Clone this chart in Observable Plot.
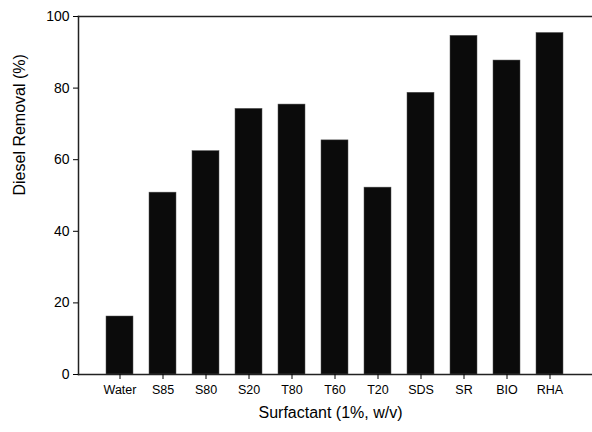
<!DOCTYPE html>
<html>
<head>
<meta charset="utf-8">
<script src="https://cdn.jsdelivr.net/npm/d3@7"></script>
<script src="https://cdn.jsdelivr.net/npm/@observablehq/plot@0.6"></script>
<style>
  html, body { margin: 0; padding: 0; background: #fff; }
</style>
</head>
<body>
<div id="chart"></div>
<script>
const categories = ["Water", "S85", "S80", "S20", "T80", "T60", "T20", "SDS", "SR", "BIO", "RHA"];
const removal = [16.2, 50.8, 62.4, 74.2, 75.4, 65.4, 52.2, 78.7, 94.6, 87.7, 95.4];
const yTicks = [0, 20, 40, 60, 80, 100];
const xTitle = "Surfactant (1%, w/v)";
const yTitle = "Diesel Removal (%)";

const data = categories.map((c, i) => ({surfactant: c, value: removal[i]}));

const chart = Plot.plot({
  width: 592,
  height: 432,
  marginTop: 16,
  marginBottom: 58,
  marginLeft: 78,
  marginRight: 0,
  style: {fontFamily: "'Liberation Sans', Arial, sans-serif", color: "#000", background: "#fff"},
  x: {domain: categories, paddingInner: 0.37, paddingOuter: 0.66},
  y: {domain: [0, 100]},
  marks: [
    Plot.barY(data, {x: "surfactant", y: "value", fill: "#0b0b0b", stroke: "#555", strokeWidth: 0.5}),
    Plot.frame({anchor: "top", stroke: "#222", strokeWidth: 1.5}),
    Plot.frame({anchor: "left", stroke: "#222", strokeWidth: 1.5}),
    Plot.frame({anchor: "bottom", stroke: "#222", strokeWidth: 1.5}),
    Plot.axisY({ticks: yTicks, tickSize: 5, tickPadding: 4, fontSize: 14, fill: "#000", label: null}),
    Plot.axisX({tickSize: 5, tickPadding: 6, fontSize: 12.5, fill: "#000", label: null}),
    Plot.text([yTitle], {frameAnchor: "left", dx: -59, rotate: -90, fontSize: 16, fill: "#000"}),
    Plot.text([xTitle], {frameAnchor: "bottom", dx: -5, dy: 43, fontSize: 16, fill: "#000"})
  ]
});
document.getElementById("chart").appendChild(chart);
</script>
</body>
</html>
